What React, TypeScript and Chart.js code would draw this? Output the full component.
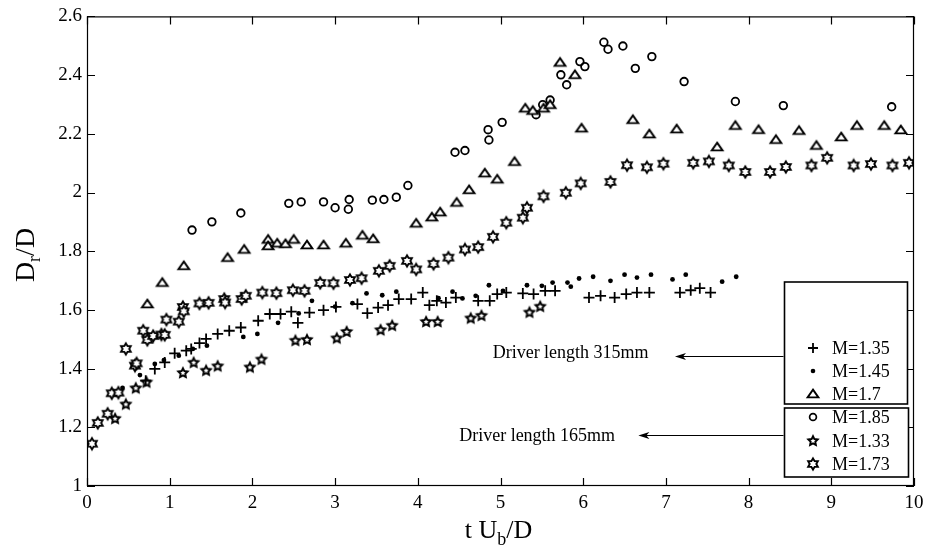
import React, { useEffect, useRef } from 'react';
import { Chart, registerables } from 'chart.js';

Chart.register(...registerables);

// ---------- data ----------
const xTicks = [0, 1, 2, 3, 4, 5, 6, 7, 8, 9, 10];
const xTickLabels = ['0', '1', '2', '3', '4', '5', '6', '7', '8', '9', '10'];
const yTicks = [1, 1.2, 1.4, 1.6, 1.8, 2, 2.2, 2.4, 2.6];
const yTickLabels = ['1', '1.2', '1.4', '1.6', '1.8', '2', '2.2', '2.4', '2.6'];

const seriesLabels = ['M=1.35', 'M=1.45', 'M=1.7', 'M=1.85', 'M=1.33', 'M=1.73'];

const m135: [number, number][] = [
  [0.71, 1.359], [0.82, 1.399], [0.94, 1.421], [1.06, 1.452], [1.2, 1.461], [1.26, 1.467], [1.36, 1.487],
  [1.44, 1.501], [1.58, 1.518], [1.72, 1.529], [1.86, 1.54], [2.07, 1.563], [2.21, 1.586], [2.34, 1.586],
  [2.47, 1.594], [2.55, 1.556], [2.69, 1.591], [2.86, 1.599], [3.01, 1.61], [3.27, 1.62], [3.39, 1.589],
  [3.52, 1.608], [3.64, 1.616], [3.77, 1.637], [3.92, 1.637], [4.06, 1.659], [4.14, 1.616], [4.23, 1.631],
  [4.34, 1.625], [4.46, 1.642], [4.73, 1.631], [4.87, 1.631], [4.96, 1.654], [5.07, 1.659], [5.27, 1.656],
  [5.4, 1.654], [5.54, 1.665], [5.66, 1.665], [6.07, 1.642], [6.21, 1.648], [6.38, 1.642], [6.52, 1.654],
  [6.65, 1.659], [6.8, 1.659], [7.17, 1.659], [7.3, 1.667], [7.41, 1.674], [7.54, 1.659],
];

const m145: [number, number][] = [
  [0.43, 1.334], [0.64, 1.378], [0.82, 1.416], [0.93, 1.429], [1.11, 1.444], [1.28, 1.467], [1.45, 1.478],
  [1.89, 1.508], [2.06, 1.518], [2.31, 1.556], [2.56, 1.588], [2.72, 1.631], [3.0, 1.611], [3.21, 1.623],
  [3.38, 1.656], [3.57, 1.65], [3.74, 1.662], [4.25, 1.64], [4.42, 1.662], [4.54, 1.639], [4.7, 1.648],
  [4.86, 1.684], [5.03, 1.665], [5.32, 1.684], [5.5, 1.682], [5.63, 1.693], [5.81, 1.693], [5.85, 1.679],
  [5.95, 1.707], [6.12, 1.713], [6.33, 1.699], [6.5, 1.72], [6.65, 1.71], [6.82, 1.72], [7.08, 1.704],
  [7.24, 1.72], [7.68, 1.696], [7.85, 1.713],
];

const m17: [number, number][] = [
  [0.73, 1.62], [0.91, 1.693], [1.17, 1.75], [1.7, 1.778], [1.9, 1.806], [2.19, 1.84], [2.19, 1.818],
  [2.3, 1.827], [2.4, 1.825], [2.5, 1.84], [2.66, 1.821], [2.86, 1.821], [3.13, 1.827], [3.33, 1.854],
  [3.46, 1.842], [3.98, 1.895], [4.17, 1.916], [4.27, 1.933], [4.47, 1.966], [4.62, 2.009], [4.81, 2.066],
  [4.96, 2.045], [5.17, 2.105], [5.3, 2.287], [5.39, 2.279], [5.52, 2.287], [5.6, 2.299], [5.72, 2.443],
  [5.9, 2.401], [5.98, 2.219], [6.6, 2.248], [6.8, 2.199], [7.13, 2.216], [7.62, 2.155], [7.84, 2.228],
  [8.12, 2.214], [8.33, 2.18], [8.61, 2.211], [8.82, 2.16], [9.12, 2.189], [9.31, 2.228], [9.64, 2.228],
  [9.84, 2.213],
];

const m185: [number, number][] = [
  [1.27, 1.872], [1.51, 1.9], [1.86, 1.93], [2.44, 1.963], [2.59, 1.968], [2.86, 1.968], [3.0, 1.948],
  [3.16, 1.943], [3.17, 1.976], [3.45, 1.974], [3.59, 1.976], [3.74, 1.984], [3.88, 2.024], [4.45, 2.137],
  [4.57, 2.143], [4.85, 2.214], [4.86, 2.179], [5.02, 2.239], [5.43, 2.265], [5.51, 2.299], [5.6, 2.315],
  [5.73, 2.401], [5.8, 2.367], [5.96, 2.446], [6.02, 2.429], [6.25, 2.512], [6.3, 2.488], [6.48, 2.499],
  [6.63, 2.423], [6.83, 2.463], [7.22, 2.378], [7.84, 2.31], [8.42, 2.296], [9.73, 2.292],
];

const m133: [number, number][] = [
  [0.34, 1.229], [0.47, 1.278], [0.59, 1.333], [0.72, 1.353], [1.16, 1.385], [1.29, 1.42], [1.44, 1.393],
  [1.58, 1.408], [1.97, 1.404], [2.11, 1.431], [2.52, 1.495], [2.66, 1.498], [3.02, 1.503], [3.14, 1.525],
  [3.55, 1.531], [3.69, 1.546], [4.1, 1.559], [4.24, 1.559], [4.64, 1.571], [4.77, 1.58], [5.35, 1.591],
  [5.48, 1.611],
];

const m173: [number, number][] = [
  [0.06, 1.144], [0.13, 1.215], [0.25, 1.246], [0.3, 1.316], [0.38, 1.318], [0.47, 1.467], [0.58, 1.41],
  [0.6, 1.418], [0.68, 1.529], [0.73, 1.498], [0.8, 1.511], [0.9, 1.516], [0.94, 1.515], [0.96, 1.567],
  [1.11, 1.56], [1.16, 1.61], [1.17, 1.595], [1.36, 1.622], [1.47, 1.624], [1.66, 1.637], [1.67, 1.625],
  [1.87, 1.637], [1.92, 1.648], [2.12, 1.659], [2.29, 1.657], [2.49, 1.667], [2.63, 1.665], [2.82, 1.692],
  [2.98, 1.691], [3.18, 1.702], [3.32, 1.708], [3.53, 1.733], [3.66, 1.75], [3.87, 1.767], [3.98, 1.738],
  [4.19, 1.757], [4.37, 1.778], [4.57, 1.806], [4.73, 1.814], [4.91, 1.849], [5.07, 1.897], [5.27, 1.914],
  [5.32, 1.948], [5.52, 1.987], [5.79, 1.999], [5.97, 2.031], [6.33, 2.036], [6.53, 2.093], [6.77, 2.086],
  [6.97, 2.098], [7.33, 2.101], [7.52, 2.106], [7.76, 2.092], [7.96, 2.07], [8.26, 2.07], [8.45, 2.087],
  [8.76, 2.092], [8.95, 2.118], [9.27, 2.092], [9.48, 2.097], [9.74, 2.092], [9.94, 2.101],
];

const annotationTexts = ['Driver length 315mm', 'Driver length 165mm'];

// ---------- styling helpers ----------
const FONT = '"Liberation Serif", "Times New Roman", Times, serif';

function starPath(g: CanvasRenderingContext2D, n: number, R: number, r: number) {
  g.beginPath();
  for (let i = 0; i < 2 * n; i++) {
    const a = -Math.PI / 2 + (i * Math.PI) / n;
    const rad = i % 2 === 0 ? R : r;
    const px = Math.cos(a) * rad;
    const py = Math.sin(a) * rad;
    if (i === 0) g.moveTo(px, py);
    else g.lineTo(px, py);
  }
  g.closePath();
}

function makeMarker(kind: string): HTMLCanvasElement {
  const c = document.createElement('canvas');
  const s = 16;
  c.width = s;
  c.height = s;
  const g = c.getContext('2d')!;
  g.translate(s / 2, s / 2);
  g.strokeStyle = '#000';
  g.fillStyle = '#fff';
  g.lineWidth = 1.9;
  g.lineJoin = 'miter';
  if (kind === 'pent') {
    starPath(g, 5, 4.9, 2.4);
  } else if (kind === 'hex') {
    starPath(g, 6, 5.6, 3.3);
  } else {
    g.beginPath();
    g.moveTo(0, -4.4);
    g.lineTo(5.4, 3.4);
    g.lineTo(-5.4, 3.4);
    g.closePath();
  }
  g.fill();
  g.stroke();
  return c;
}

const toPts = (arr: [number, number][]) => arr.map(([x, y]) => ({ x, y }));

export default function App() {
  const ref = useRef<HTMLCanvasElement>(null);

  useEffect(() => {
    const markers = { tri: makeMarker('tri'), pent: makeMarker('pent'), hex: makeMarker('hex') };

    const drawLegendMarker = (ctx: CanvasRenderingContext2D, kind: string, x: number, y: number) => {
      ctx.save();
      ctx.strokeStyle = '#000';
      ctx.fillStyle = '#000';
      ctx.lineWidth = 1.8;
      if (kind === 'plus') {
        ctx.beginPath();
        ctx.moveTo(x - 5, y);
        ctx.lineTo(x + 5, y);
        ctx.moveTo(x, y - 5);
        ctx.lineTo(x, y + 5);
        ctx.stroke();
      } else if (kind === 'dot') {
        ctx.beginPath();
        ctx.arc(x, y, 2.3, 0, Math.PI * 2);
        ctx.fill();
      } else if (kind === 'circ') {
        ctx.lineWidth = 1.7;
        ctx.beginPath();
        ctx.arc(x, y, 3.4, 0, Math.PI * 2);
        ctx.stroke();
      } else {
        const img = (markers as any)[kind] as HTMLCanvasElement;
        ctx.drawImage(img, x - img.width / 2, y - img.height / 2);
      }
      ctx.restore();
    };

    const legendKinds = ['plus', 'dot', 'tri', 'circ', 'pent', 'hex'];

    const overlay = {
      id: 'overlay',
      afterDraw(chart: any) {
        const { ctx, chartArea: a } = chart;
        const xs = chart.scales.x;
        const ys = chart.scales.y;
        ctx.save();
        ctx.strokeStyle = '#000';
        ctx.lineWidth = 1.2;
        // frame
        ctx.strokeRect(a.left + 0.5, a.top + 0.5, a.right - a.left - 1, a.bottom - a.top - 1);
        // inward ticks
        const tl = 8;
        ctx.beginPath();
        for (const v of xTicks) {
          const px = Math.round(xs.getPixelForValue(v)) + 0.5;
          ctx.moveTo(px, a.bottom);
          ctx.lineTo(px, a.bottom - tl);
          ctx.moveTo(px, a.top);
          ctx.lineTo(px, a.top + tl);
        }
        for (const v of yTicks) {
          const py = Math.round(ys.getPixelForValue(v)) + 0.5;
          ctx.moveTo(a.left, py);
          ctx.lineTo(a.left + tl, py);
          ctx.moveTo(a.right, py);
          ctx.lineTo(a.right - tl, py);
        }
        ctx.stroke();

        ctx.fillStyle = '#000';
        // x title: t U_b/D
        {
          const big = `26px ${FONT}`;
          const small = `18px ${FONT}`;
          ctx.textBaseline = 'alphabetic';
          ctx.textAlign = 'left';
          ctx.font = big;
          const w1 = ctx.measureText('t U').width;
          const w3 = ctx.measureText('/D').width;
          ctx.font = small;
          const w2 = ctx.measureText('b').width;
          const total = w1 + w2 + w3;
          const cx = (a.left + a.right) / 2 - 2;
          let sx = cx - total / 2;
          const base = 538;
          ctx.font = big;
          ctx.fillText('t U', sx, base);
          sx += w1;
          ctx.font = small;
          ctx.fillText('b', sx, base + 7);
          sx += w2;
          ctx.font = big;
          ctx.fillText('/D', sx, base);
        }
        // y title: D_r/D
        {
          const big = `28px ${FONT}`;
          const small = `18px ${FONT}`;
          ctx.save();
          ctx.translate(34, 255);
          ctx.rotate(-Math.PI / 2);
          ctx.textBaseline = 'alphabetic';
          ctx.textAlign = 'left';
          ctx.font = big;
          const w1 = ctx.measureText('D').width;
          const w3 = ctx.measureText('/D').width;
          ctx.font = small;
          const w2 = ctx.measureText('r').width;
          const total = w1 + w2 + w3;
          let sx = -total / 2;
          ctx.font = big;
          ctx.fillText('D', sx, 0);
          sx += w1;
          ctx.font = small;
          ctx.fillText('r', sx, 6);
          sx += w2;
          ctx.font = big;
          ctx.fillText('/D', sx, 0);
          ctx.restore();
        }

        // legend boxes
        const lgL = 784.5;
        const lgR = 907.5;
        ctx.lineWidth = 1.6;
        ctx.fillStyle = '#fff';
        ctx.fillRect(lgL, 282, lgR - lgL, 122);
        ctx.strokeRect(lgL, 282, lgR - lgL, 122);
        ctx.fillRect(lgL, 408, lgR - lgL + 1, 69);
        ctx.strokeRect(lgL, 408, lgR - lgL + 1, 69);
        const rowYs = [348, 371, 394, 417, 441, 464];
        ctx.fillStyle = '#000';
        ctx.font = `18px ${FONT}`;
        ctx.textBaseline = 'middle';
        ctx.textAlign = 'left';
        seriesLabels.forEach((lab, i) => {
          drawLegendMarker(ctx, legendKinds[i], 813, rowYs[i]);
          ctx.fillStyle = '#000';
          ctx.fillText(lab, 832, rowYs[i] + 1);
        });

        // annotations + arrows
        const anns = [
          { text: annotationTexts[0], tx: 4.905, ty: 1.451, tip: 7.11, ay: 1.444 },
          { text: annotationTexts[1], tx: 4.5, ty: 1.17, tip: 6.667, ay: 1.175 },
        ];
        ctx.font = `18px ${FONT}`;
        ctx.textBaseline = 'middle';
        ctx.lineWidth = 1.1;
        for (const an of anns) {
          ctx.fillStyle = '#000';
          ctx.fillText(an.text, xs.getPixelForValue(an.tx), ys.getPixelForValue(an.ty));
          const ay = Math.round(ys.getPixelForValue(an.ay)) + 0.5;
          const tip = xs.getPixelForValue(an.tip);
          ctx.beginPath();
          ctx.moveTo(lgL - 1, ay);
          ctx.lineTo(tip + 2, ay);
          ctx.stroke();
          ctx.beginPath();
          ctx.moveTo(tip, ay);
          ctx.lineTo(tip + 11, ay - 3.5);
          ctx.lineTo(tip + 8, ay);
          ctx.lineTo(tip + 11, ay + 3.5);
          ctx.closePath();
          ctx.fill();
        }
        ctx.restore();
      },
    };

    const tickFont = { family: FONT, size: 19 };

    const chart = new Chart(ref.current!, {
      type: 'scatter',
      data: {
        datasets: [
          {
            label: seriesLabels[0], data: toPts(m135), pointStyle: 'cross', pointRadius: 5.5,
            borderColor: '#000', backgroundColor: '#000', borderWidth: 1.8, showLine: false,
          },
          {
            label: seriesLabels[1], data: toPts(m145), pointStyle: 'circle', pointRadius: 2.4,
            borderColor: '#000', backgroundColor: '#000', borderWidth: 0, showLine: false,
          },
          {
            label: seriesLabels[2], data: toPts(m17), pointStyle: markers.tri as any, pointRadius: 5,
            borderColor: '#000', backgroundColor: '#fff', showLine: false,
          },
          {
            label: seriesLabels[3], data: toPts(m185), pointStyle: 'circle', pointRadius: 3.8,
            borderColor: '#000', backgroundColor: 'rgba(0,0,0,0)', borderWidth: 1.8, showLine: false,
          },
          {
            label: seriesLabels[4], data: toPts(m133), pointStyle: markers.pent as any, pointRadius: 5,
            borderColor: '#000', backgroundColor: '#fff', showLine: false,
          },
          {
            label: seriesLabels[5], data: toPts(m173), pointStyle: markers.hex as any, pointRadius: 5,
            borderColor: '#000', backgroundColor: '#fff', showLine: false,
          },
        ],
      },
      options: {
        responsive: false,
        animation: false,
        devicePixelRatio: 1,
        layout: { padding: { top: 15, right: 21, left: 0, bottom: 0 } },
        plugins: { legend: { display: false }, tooltip: { enabled: false }, title: { display: false } },
        scales: {
          x: {
            type: 'linear', min: 0, max: 10,
            afterBuildTicks: (s: any) => { s.ticks = xTicks.map((v) => ({ value: v })); },
            afterFit: (s: any) => { s.height = 63; },
            ticks: {
              callback: (v: any) => { const i = xTicks.indexOf(v); return i >= 0 ? xTickLabels[i] : ''; },
              font: tickFont, color: '#000', padding: 6, maxRotation: 0, autoSkip: false,
            },
            grid: { display: false, drawTicks: false },
            border: { display: false },
          },
          y: {
            type: 'linear', min: 1, max: 2.6,
            afterBuildTicks: (s: any) => { s.ticks = yTicks.map((v) => ({ value: v })); },
            afterFit: (s: any) => { s.width = 87; },
            ticks: {
              callback: (v: any) => { const i = yTicks.indexOf(v); return i >= 0 ? yTickLabels[i] : ''; },
              font: tickFont, color: '#000', padding: 5, autoSkip: false,
            },
            grid: { display: false, drawTicks: false },
            border: { display: false },
          },
        },
      },
      plugins: [overlay],
    } as any);

    return () => chart.destroy();
  }, []);

  return (
    <div style={{ position: 'absolute', left: 0, top: 0, width: 935, height: 549, background: '#fff' }}>
      <canvas ref={ref} width={935} height={549} style={{ display: 'block' }} />
    </div>
  );
}
